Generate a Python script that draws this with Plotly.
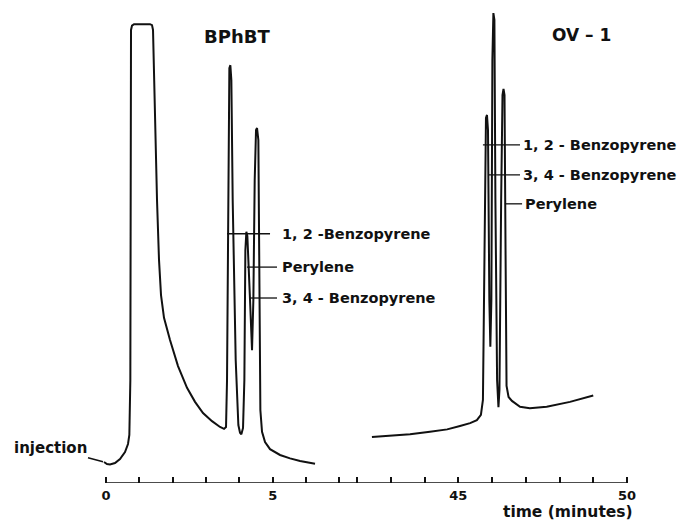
import plotly.graph_objects as go

# ---- Data (time in minutes, signal in % of recorder full scale) ----
# BPhBT column (left panel)
bphbt_time = [-0.06, 0.03, 0.12, 0.27, 0.42, 0.57, 0.66, 0.70, 0.73, 0.75, 0.78, 0.84, 1.32, 1.38,
              1.41, 1.47, 1.53, 1.59, 1.65, 1.74, 1.92, 2.16, 2.43, 2.67, 2.91, 3.18, 3.42, 3.54,
              3.60, 3.63, 3.67, 3.70, 3.73, 3.76, 3.80, 3.89, 3.97, 4.02, 4.06, 4.11, 4.15, 4.18,
              4.21, 4.24, 4.32, 4.38, 4.42, 4.46, 4.50, 4.53, 4.57, 4.60, 4.63, 4.68, 4.77, 4.92,
              5.22, 5.52, 5.82, 6.27]
bphbt_signal = [4.35, 3.93, 3.83, 4.14, 4.97, 6.42, 8.07, 9.94, 21.3, 93.8, 94.7, 95.0, 95.0, 94.8,
                93.8, 75.2, 58.6, 46.2, 38.9, 34.2, 29.6, 24.2, 19.7, 16.8, 14.5, 12.8, 11.6, 11.2,
                11.6, 21.3, 68.9, 85.9, 86.5, 83.4, 58.6, 25.5, 12.0, 10.4, 10.1, 11.4, 21.3, 48.2,
                52.0, 51.1, 37.9, 27.5, 37.9, 62.7, 73.1, 73.5, 71.0, 37.9, 15.1, 10.6, 8.5, 7.0,
                5.8, 5.1, 4.55, 4.0]

# OV-1 column (right panel)
ov1_time = [42.44, 42.97, 43.57, 44.16, 44.67, 45.05, 45.35, 45.55, 45.67, 45.73, 45.76, 45.79,
            45.82, 45.85, 45.88, 45.92, 45.95, 45.98, 46.01, 46.04, 46.07, 46.10, 46.15, 46.19,
            46.22, 46.27, 46.31, 46.34, 46.37, 46.40, 46.43, 46.49, 46.59, 46.83, 47.12, 47.62,
            48.31, 49.00]
ov1_signal = [9.52, 9.73, 10.1, 10.6, 11.1, 11.8, 12.4, 13.0, 14.1, 17.2, 37.9, 66.9,
              75.6, 76.2, 73.1, 37.9, 28.2, 37.9, 87.6, 97.3, 95.9, 58.6, 21.3, 15.7,
              19.3, 58.6, 80.3, 81.6, 80.3, 48.2, 20.1, 17.8, 17.0, 15.8, 15.5, 15.8,
              16.8, 18.1]

left_tickvals = [0, 1, 2, 3, 4, 5, 6, 7]
left_ticktext = ["0", "", "", "", "", "5", "", ""]
right_tickvals = [42, 43, 44, 45, 46, 47, 48, 49, 50]
right_ticktext = ["", "", "", "45", "", "", "", "", "50"]

left_names = ["1, 2 -Benzopyrene", "Perylene", "3, 4 - Benzopyrene"]
left_levels = [51.6, 44.7, 38.3]
left_lead_start = [3.63, 4.23, 4.32]
left_lead_end = [4.92, 5.13, 5.13]

right_names = ["1, 2 - Benzopyrene", "3, 4 - Benzopyrene", "Perylene"]
right_levels = [70.0, 63.8, 57.8]
right_lead_start = [45.73, 45.88, 46.38]
right_lead_end = [46.83, 46.83, 46.89]

# ---- Layout geometry ----
W, H = 689, 524
BOTTOM = 41
SPLIT = 345
L_ZERO, L_SCALE = 106.0, 33.34   # px of t=0, px per minute (left)
R_45, R_SCALE = 458.3, 33.74     # px of t=45, px per minute (right)
left_range = [-L_ZERO / L_SCALE, (SPLIT - L_ZERO) / L_SCALE]
right_range = [45 - (R_45 - SPLIT) / R_SCALE, 45 + (W - R_45) / R_SCALE]

FONT = "DejaVu Sans"
black = "#111111"

fig = go.Figure()
fig.add_trace(go.Scatter(x=bphbt_time, y=bphbt_signal, mode="lines", xaxis="x", yaxis="y",
                         line=dict(color=black, width=2), hoverinfo="skip", showlegend=False))
fig.add_trace(go.Scatter(x=ov1_time, y=ov1_signal, mode="lines", xaxis="x2", yaxis="y",
                         line=dict(color=black, width=2), hoverinfo="skip", showlegend=False))

axis_common = dict(showgrid=False, zeroline=False, showline=False, ticks="inside", ticklen=6,
                   tickwidth=1.5, tickcolor=black, anchor="y", ticklabelstandoff=3,
                   tickfont=dict(family=FONT, size=13, color=black, weight="bold"))

fig.update_layout(
    width=W, height=H,
    margin=dict(l=0, r=0, t=0, b=BOTTOM, pad=0),
    paper_bgcolor="white", plot_bgcolor="white",
    xaxis=dict(domain=[0, SPLIT / W], range=left_range, tickmode="array",
               tickvals=left_tickvals, ticktext=left_ticktext, **axis_common),
    xaxis2=dict(domain=[SPLIT / W, 1], range=right_range, tickmode="array",
                tickvals=right_tickvals, ticktext=right_ticktext, **axis_common),
    yaxis=dict(range=[0, 100], visible=False, fixedrange=True),
)

# axis base lines
fig.add_shape(type="line", xref="x", yref="y", x0=0, x1=left_range[1], y0=0, y1=0,
              line=dict(color=black, width=1.5))
fig.add_shape(type="line", xref="x2", yref="y", x0=right_range[0], x1=50, y0=0, y1=0,
              line=dict(color=black, width=1.5))

lab_font = dict(family=FONT, size=14.5, color=black, weight="bold")

for name, lvl, s, e in zip(left_names, left_levels, left_lead_start, left_lead_end):
    fig.add_shape(type="line", xref="x", yref="y", x0=s, x1=e, y0=lvl, y1=lvl,
                  line=dict(color=black, width=1.3))
    fig.add_annotation(x=5.22, y=lvl, xref="x", yref="y", text=name, showarrow=False,
                       xanchor="left", yanchor="middle", font=lab_font)

for name, lvl, s, e in zip(right_names, right_levels, right_lead_start, right_lead_end):
    fig.add_shape(type="line", xref="x2", yref="y", x0=s, x1=e, y0=lvl, y1=lvl,
                  line=dict(color=black, width=1.3))
    fig.add_annotation(x=e + 0.03, y=lvl, xref="x2", yref="y", text=name, showarrow=False,
                       xanchor="left", yanchor="middle", font=lab_font)

# column titles
fig.add_annotation(x=3.93, y=92.4, xref="x", yref="y", text="BPhBT", showarrow=False,
                   font=dict(family=FONT, size=18, color=black, weight="bold"))
fig.add_annotation(x=48.64, y=92.7, xref="x2", yref="y", text="OV – 1", showarrow=False,
                   font=dict(family=FONT, size=17, color=black, weight="bold"))

# injection marker
fig.add_annotation(x=bphbt_time[0], y=bphbt_signal[0], xref="x", yref="y", text="injection",
                   showarrow=True, arrowhead=0, arrowwidth=1.5, arrowcolor=black,
                   ax=-54, ay=-14, standoff=1,
                   font=dict(family=FONT, size=15, color=black, weight="bold"))

# axis title
fig.add_annotation(x=635 / W, y=-29 / (H - BOTTOM), xref="paper", yref="paper",
                   text="time (minutes)", showarrow=False, xanchor="right", yanchor="middle",
                   font=dict(family=FONT, size=15.5, color=black, weight="bold"))

fig.write_html("out.html", config={"displayModeBar": False},
               post_script="document.body.style.margin='0px';document.body.style.overflow='hidden';")
